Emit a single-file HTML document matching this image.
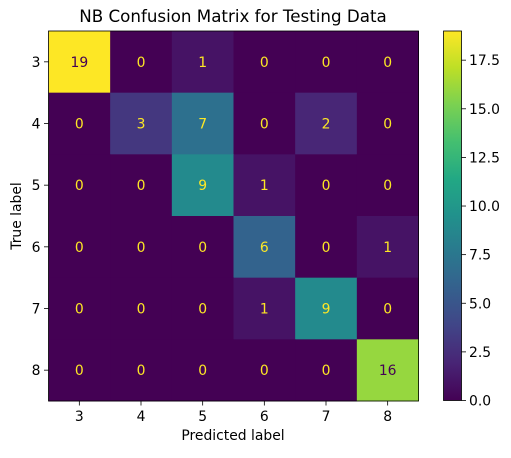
<!DOCTYPE html>
<html><head><meta charset="utf-8"><style>
body{margin:0;background:#fff;}
svg text{font-family:"DejaVu Sans","Liberation Sans",sans-serif;}
</style></head><body>
<svg id="chart" width="511" height="453" xmlns="http://www.w3.org/2000/svg">
<defs><linearGradient id="vg" x1="0" y1="1" x2="0" y2="0"></linearGradient></defs>
<text x="233" y="22" font-size="16.7" text-anchor="middle" fill="#000">NB Confusion Matrix for Testing Data</text>
<g id="cells"></g>
<g id="axes"></g>
<text x="233" y="440" font-size="13.9" text-anchor="middle">Predicted label</text>
<text transform="translate(21,216) rotate(-90)" font-size="13.9" text-anchor="middle">True label</text>
<rect x="443.5" y="31" width="18" height="369.5" fill="url(#vg)" stroke="#000" stroke-width="0.8"/>
<g id="cbticks"></g>
</svg>
<script>
const labels=["3","4","5","6","7","8"];
const values=[[19,0,1,0,0,0],[0,3,7,0,2,0],[0,0,9,1,0,0],[0,0,0,6,0,1],[0,0,0,1,9,0],[0,0,0,0,0,16]];
const cbTicks=[0,2.5,5,7.5,10,12.5,15,17.5];
const NS="http://www.w3.org/2000/svg";
const stops=[[0,68,1,84],[0.1,72,36,117],[0.2,65,68,135],[0.3,53,95,141],[0.4,42,120,142],[0.5,33,145,140],[0.6,34,168,132],[0.7,68,191,112],[0.8,122,209,81],[0.9,189,223,38],[1,253,231,37]];
function viridis(t){t=Math.max(0,Math.min(1,t));for(let i=1;i<stops.length;i++){if(t<=stops[i][0]){const a=stops[i-1],b=stops[i],f=(t-a[0])/(b[0]-a[0]);return `rgb(${[1,2,3].map(k=>Math.round(a[k]+(b[k]-a[k])*f)).join(",")})`;}}return "rgb(253,231,37)";}
const vmin=0,vmax=Math.max(...values.flat());
const L=48.5,T=31,S=370;const n=labels.length,cw=S/n;
const xs=i=>L+cw*i, ys=j=>T+cw*j;
function el(tag,attrs,parent){const e=document.createElementNS(NS,tag);for(const k in attrs)e.setAttribute(k,attrs[k]);parent.appendChild(e);return e;}
const cells=document.getElementById("cells"),axes=document.getElementById("axes");
values.forEach((row,j)=>row.forEach((v,i)=>{
 const r=el("rect",{x:xs(i),y:ys(j),width:cw+0.5,height:cw+0.5,fill:viridis((v-vmin)/(vmax-vmin))},cells);
 
 
 const t=el("text",{x:xs(i)+cw/2,y:ys(j)+cw/2+5,"font-size":13.9,"text-anchor":"middle",fill:(v-vmin)/(vmax-vmin)<0.5?"#fde725":"#440154"},cells);
 t.textContent=v;
 
 
}));
el("rect",{x:L,y:T,width:S,height:S,fill:"none",stroke:"#000","stroke-width":0.8},axes);
labels.forEach((lab,i)=>{
 const cx=xs(i)+cw/2;
 el("line",{x1:cx,x2:cx,y1:T+S,y2:T+S+4.5,stroke:"#000","stroke-width":0.8},axes);
 const tx=el("text",{x:cx,y:T+S+20,"font-size":13.9,"text-anchor":"middle"},axes);tx.textContent=lab;
 
 
 const cy=ys(i)+cw/2;
 el("line",{x1:L-4.5,x2:L,y1:cy,y2:cy,stroke:"#000","stroke-width":0.8},axes);
 const ty=el("text",{x:L-8,y:cy+5,"font-size":13.9,"text-anchor":"end"},axes);ty.textContent=lab;
 
 
});
const g=document.getElementById("vg");
for(let k=0;k<=20;k++){el("stop",{offset:k/20,"stop-color":viridis(k/20)},g);}
const cb=document.getElementById("cbticks");const cbT=31,cbB=400.5;
cbTicks.forEach(v=>{
 const y=cbB-(v-vmin)/(vmax-vmin)*(cbB-cbT);
 el("line",{x1:461.5,x2:466,y1:y,y2:y,stroke:"#000","stroke-width":0.8},cb);
 const t=el("text",{x:469,y:y+5,"font-size":13.9},cb);t.textContent=v.toFixed(1);
 
 
});
</script>
</body></html>
